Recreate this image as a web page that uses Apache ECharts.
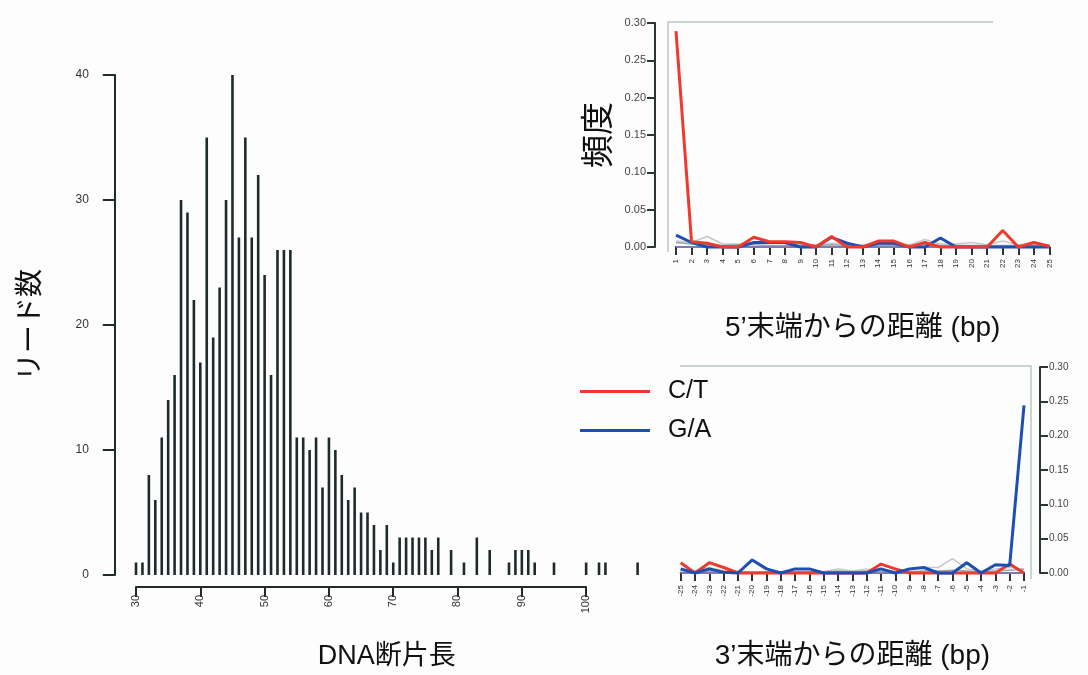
<!DOCTYPE html>
<html>
<head>
<meta charset="utf-8">
<title>DNA断片長と末端の置換頻度</title>
<script src="https://cdn.jsdelivr.net/npm/echarts@6/dist/echarts.min.js"></script>
</head>
<body style="margin:0; background:#fdfdfe;">
<div id="main" style="width:1088px; height:675px;"></div>
<script type="text/javascript">

// histogram: DNA fragment length -> read count
var histLengths = [30,31,32,33,34,35,36,37,38,39,40,41,42,43,44,45,46,47,48,49,
  50,51,52,53,54,55,56,57,58,59,60,61,62,63,64,65,66,67,68,69,70,71,72,73,74,75,76,77,
  79,81,83,85,88,89,90,91,92,95,100,102,103,108];
var histCounts = [1,1,8,6,11,14,16,30,29,22,17,35,19,23,30,40,27,35,27,32,
  24,16,26,26,26,11,11,10,11,7,11,10,8,6,7,5,5,4,2,4,1,3,3,3,3,3,2,3,
  2,1,3,2,1,2,2,2,1,1,1,1,1,1];

// 5' end
var pos5 = [1,2,3,4,5,6,7,8,9,10,11,12,13,14,15,16,17,18,19,20,21,22,23,24,25];
var ct5 = [0.289,0.007,0.005,0,0,0.013,0.007,0.007,0.006,0,0.014,0,0,0.008,0.008,0,0.006,0,0,0,0,0.022,0,0.006,0.001];
var ga5 = [0.016,0.006,0,0,0,0.006,0.006,0.006,0,0,0.013,0.005,0,0.005,0.005,0,0,0.012,0,0,0,0,0,0,0];
var greyA5 = [0.008,0.006,0.014,0.004,0.004,0.005,0.005,0.005,0.003,0.003,0.005,0.004,0.003,0.003,0.004,0.003,0.010,0.004,0.004,0.006,0.003,0.008,0.003,0.004,0.003];
var greyB5 = [0.006,0.004,0.003,0.002,0.003,0.003,0.002,0.002,0.002,0.002,0.003,0.002,0.002,0.002,0.002,0.002,0.003,0.002,0.002,0.002,0.002,0.002,0.002,0.002,0.002];
var base5 = [0,0,0,0,0,0,0,0,0,0,0,0,0,0,0,0,0,0,0,0,0,0,0,0,0];

// 3' end
var pos3 = [-25,-24,-23,-22,-21,-20,-19,-18,-17,-16,-15,-14,-13,-12,-11,-10,-9,-8,-7,-6,-5,-4,-3,-2,-1];
var ct3 = [0.015,0,0.015,0.008,0,0,0,0,0,0,0,0,0,0,0.013,0.006,0,0,0,0,0,0,0,0.013,0];
var ga3 = [0.006,0,0.006,0.001,0,0.019,0.006,0,0.006,0.006,0,0,0,0,0.006,0,0.006,0.008,0,0,0.015,0,0.012,0.011,0.244];
var greyA3 = [0.003,0.003,0.008,0.003,0.003,0.001,0.002,0.002,0.002,0.002,0.002,0.006,0.003,0.006,0.003,0.003,0.004,0.008,0.008,0.021,0.006,0.003,0.006,0.008,0.006];
var greyB3 = [0.004,0.002,0.003,0.002,0.002,0.001,0.002,0.002,0.002,0.002,0.002,0.003,0.002,0.003,0.002,0.002,0.002,0.003,0.003,0.004,0.003,0.002,0.003,0.004,0.005];
var base3 = [0,0,0,0,0,0,0,0,0,0,0,0,0,0,0,0,0,0,0,0,0,0,0,0,0];

var FONT = "'Liberation Sans', 'Noto Sans CJK JP', sans-serif";
var INK = '#1f2b2b';
var RED = '#ee3a2c';
var BLUE = '#1d4fb3';

function zip(xs, ys) {
  return xs.map(function (x, i) { return [x, ys[i]]; });
}

function lineSeries(name, xs, ys, axis, color, width) {
  return {
    name: name,
    type: 'line',
    xAxisIndex: axis,
    yAxisIndex: axis,
    data: zip(xs, ys),
    symbol: 'none',
    silent: true,
    clip: false,
    itemStyle: { color: color },
    lineStyle: { color: color, width: width }
  };
}

var smallAxis = {
  axisLine: { lineStyle: { color: '#2b3535', width: 2 } },
  axisTick: { length: 8, lineStyle: { color: '#2b3535', width: 2 } },
  splitLine: { show: false }
};

var chartDom = document.getElementById('main');
var myChart = echarts.init(chartDom);
var option;

option = {
  animation: false,
  textStyle: { fontFamily: FONT },
  grid: [
    { left: 132.8, top: 75, width: 508, height: 500 },
    { left: 136, top: 75, width: 450, height: 512 },
    { left: 676, top: 23, width: 373.4, height: 224 },
    { left: 680.7, top: 367, width: 343.3, height: 206 }
  ],
  legend: {
    data: ['C/T', 'G/A'],
    orient: 'vertical',
    left: 580,
    top: 379,
    padding: 0,
    icon: 'rect',
    itemWidth: 70,
    itemHeight: 3,
    itemGap: 14,
    textStyle: { fontSize: 25, color: '#111', padding: [0, 0, 0, 13] }
  },
  xAxis: [
    {
      gridIndex: 0, type: 'value', min: 29.5, max: 108.5,
      axisLine: { show: false }, axisTick: { show: false }, axisLabel: { show: false },
      splitLine: { show: false },
      name: 'DNA断片長', nameLocation: 'middle', nameGap: 68,
      nameTextStyle: { fontSize: 27, color: '#111' }
    },
    {
      gridIndex: 1, type: 'value', min: 30, max: 100, interval: 10,
      axisLine: { lineStyle: { color: INK, width: 2 } },
      axisTick: { length: 10, lineStyle: { color: INK, width: 2 } },
      axisLabel: { rotate: 90, fontSize: 11, color: '#333', margin: 8 },
      splitLine: { show: false }
    },
    Object.assign({
      gridIndex: 2, type: 'value', min: 1, max: 25, interval: 1, offset: 7,
      axisLabel: { rotate: 90, fontSize: 8, color: '#333', margin: 5 },
      name: '5’末端からの距離 (bp)', nameLocation: 'middle', nameGap: 60,
      nameTextStyle: { fontSize: 28, color: '#111' }
    }, smallAxis),
    Object.assign({
      gridIndex: 3, type: 'value', min: -25, max: -1, interval: 1, offset: 7,
      axisLabel: { rotate: 90, fontSize: 8, color: '#333', margin: 5 },
      name: '3’末端からの距離 (bp)', nameLocation: 'middle', nameGap: 62,
      nameTextStyle: { fontSize: 28, color: '#111' }
    }, smallAxis)
  ],
  yAxis: [
    {
      gridIndex: 0, type: 'value', min: 0, max: 40, interval: 10, offset: 18,
      axisLine: { show: true, lineStyle: { color: INK, width: 2 } },
      axisTick: { show: true, length: 12, lineStyle: { color: INK, width: 2 } },
      axisLabel: { fontSize: 12, color: '#333', margin: 26 },
      splitLine: { show: false },
      name: 'リード数', nameLocation: 'middle', nameGap: 70, nameRotate: 90,
      nameTextStyle: { fontSize: 28, color: '#111' }
    },
    { gridIndex: 1, type: 'value', min: 0, max: 1, show: false },
    Object.assign({
      gridIndex: 2, type: 'value', min: 0, max: 0.3, interval: 0.05, offset: 21,
      axisLabel: { fontSize: 11, color: '#444', margin: 9, formatter: function (v) { return v.toFixed(2); } },
      name: '頻度', nameLocation: 'middle', nameGap: 39, nameRotate: 90,
      nameTextStyle: { fontSize: 33, color: '#111' }
    }, smallAxis),
    Object.assign({
      gridIndex: 3, type: 'value', position: 'right', min: 0, max: 0.3, interval: 0.05, offset: 16,
      axisLabel: { fontSize: 10, color: '#444', margin: 9, formatter: function (v) { return v.toFixed(2); } }
    }, smallAxis)
  ],
  graphic: [
    { type: 'polyline', silent: true, shape: { points: [[993, 22], [668, 22], [668, 252]] },
      style: { stroke: '#b8c6c8', lineWidth: 1.5, fill: null } },
    { type: 'polyline', silent: true, shape: { points: [[680, 366], [1031, 366], [1031, 579]] },
      style: { stroke: '#b8c6c8', lineWidth: 1.5, fill: null } }
  ],
  series: [
    {
      name: 'リード数',
      type: 'bar',
      xAxisIndex: 0,
      yAxisIndex: 0,
      data: zip(histLengths, histCounts),
      barWidth: 2.6,
      silent: true,
      itemStyle: { color: INK }
    },
    lineSeries('other-a', pos5, greyA5, 2, '#c6c9cb', 1.5),
    lineSeries('other-b', pos5, greyB5, 2, '#9ea3a6', 1.5),
    lineSeries('base', pos5, base5, 2, '#9a8fd6', 1.5),
    lineSeries('G/A', pos5, ga5, 2, BLUE, 3),
    lineSeries('C/T', pos5, ct5, 2, RED, 3),
    lineSeries('other-a', pos3, greyA3, 3, '#c6c9cb', 1.5),
    lineSeries('other-b', pos3, greyB3, 3, '#9ea3a6', 1.5),
    lineSeries('base', pos3, base3, 3, '#9a8fd6', 1.5),
    lineSeries('C/T', pos3, ct3, 3, RED, 3),
    lineSeries('G/A', pos3, ga3, 3, BLUE, 3)
  ]
};

option && myChart.setOption(option);
</script>
</body>
</html>
